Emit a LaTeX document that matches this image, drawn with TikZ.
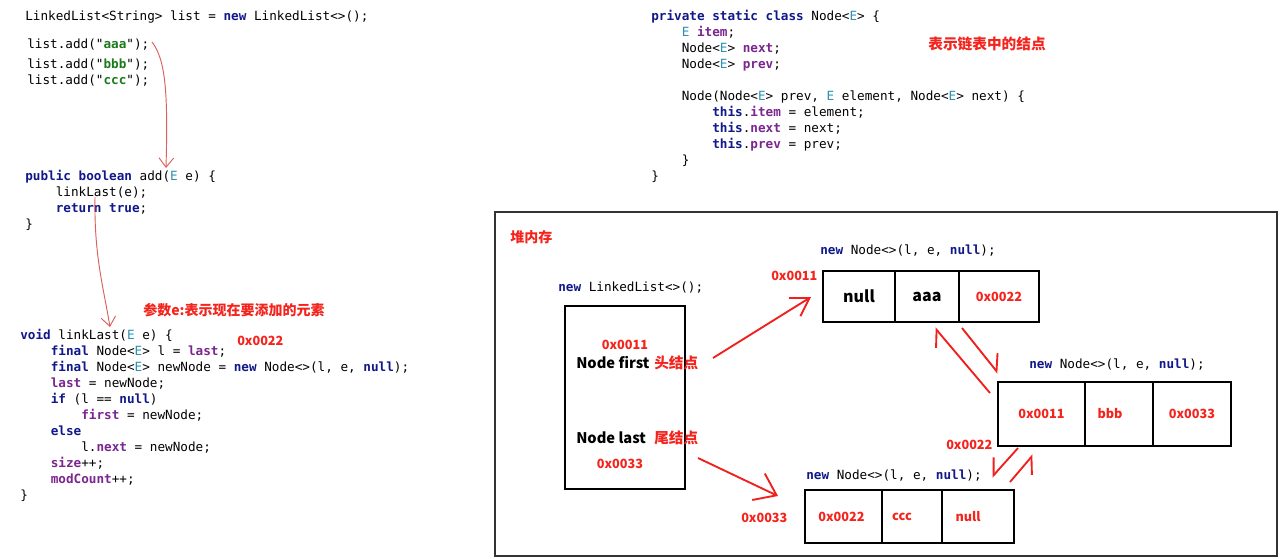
\documentclass[tikz,border=0pt]{standalone}
\usepackage{fontspec}
\setmonofont{DejaVu Sans Mono}
\newfontfamily\cjk{Noto Sans CJK SC}
\usetikzlibrary{arrows.meta,positioning}

\definecolor{kwblue}{HTML}{10188A}
\definecolor{tyteal}{HTML}{2B91AF}
\definecolor{fldpurple}{HTML}{7B2590}
\definecolor{strgreen}{HTML}{1C7A1C}
\definecolor{memred}{HTML}{F4231C}
\definecolor{handred}{HTML}{F0201C}
\definecolor{penred}{HTML}{D9605C}

\newcommand\kw[1]{\textcolor{kwblue}{\bfseries #1}}
\newcommand\ty[1]{\textcolor{tyteal}{#1}}
\newcommand\fld[1]{\textcolor{fldpurple}{\bfseries #1}}
\newcommand\lit[1]{\textcolor{strgreen}{\bfseries #1}}
\newcommand\ind{\hphantom{0000}}

\tikzset{
  code/.style={inner sep=0pt, anchor=north west, align=left,
    font=\ttfamily\fontsize{9.5}{12}\selectfont},
  memo/.style={inner sep=0pt, anchor=west, text=memred,
    font=\cjk\bfseries\fontsize{10.5}{12}\selectfont},
  addr/.style={inner sep=0pt, text=memred,
    font=\cjk\bfseries\fontsize{9.5}{11}\selectfont},
  field/.style={inner sep=0pt, anchor=west,
    font=\cjk\bfseries\fontsize{11}{13}\selectfont},
  objbox/.style={draw, line width=1.4pt, inner sep=0pt, outer sep=0pt},
  cell/.style={objbox, minimum height=#1, text=memred,
    font=\cjk\bfseries\fontsize{9.5}{11}\selectfont},
  bigval/.style={text=black, font=\cjk\bfseries\fontsize{12}{14}\selectfont},
  pen/.style={draw=penred, line width=0.7pt,
    -{Straight Barb[length=7pt,width=11pt]}},
  hand/.style={draw=handred, line width=1.4pt,
    -{Straight Barb[length=13pt,width=16pt]}},
  halfl/.style={draw=handred, line width=1.4pt,
    -{Straight Barb[left,length=10pt,width=18pt]}},
  halfr/.style={draw=handred, line width=1.4pt,
    -{Straight Barb[right,length=10pt,width=18pt]}}
}

\begin{document}
\begin{tikzpicture}[x=0.75pt,y=-0.75pt]
\fill[white] (0,0) rectangle (1280,559);
\useasboundingbox (0,0) rectangle (1280,559);

\node[code] (decl) at (25,11) {LinkedList<String> list = \kw{new} LinkedList<>();};
\node[code] (add1) at (27,39) {list.add("\lit{aaa}");};
\node[code] (add23) at (27,59) {list.add("\lit{bbb}");\\list.add("\lit{ccc}");};

\node[code] (addm) at (25,170) {\kw{public} \kw{boolean} add(\ty{E} e) \{\\
\ind linkLast(e);\\
\ind\kw{return} \kw{true};\\
\}};

\node[memo] (parm) at (143,310) {参数e:表示现在要添加的元素};
\node[code] (linkl) at (20,329) {\kw{void} linkLast(\ty{E} e) \{\\
\ind\kw{final} Node<\ty{E}> l = \fld{last};\\
\ind\kw{final} Node<\ty{E}> newNode = \kw{new} Node<>(l, e, \kw{null});\\
\ind\fld{last} = newNode;\\
\ind\kw{if} (l == \kw{null})\\
\ind\ind\fld{first} = newNode;\\
\ind\kw{else}\\
\ind\ind l.\fld{next} = newNode;\\
\ind\fld{size}++;\\
\ind\fld{modCount}++;\\
\}};
\node[addr, anchor=west] (lval) at (237,341) {0x0022};

\node[code] (nodecls) at (651,10) {\kw{private} \kw{static} \kw{class} Node<\ty{E}> \{\\
\ind\ty{E} \fld{item};\\
\ind Node<\ty{E}> \fld{next};\\
\ind Node<\ty{E}> \fld{prev};\\
\mbox{}\\
\ind Node(Node<\ty{E}> prev, \ty{E} element, Node<\ty{E}> next) \{\\
\ind\ind\kw{this}.\fld{item} = element;\\
\ind\ind\kw{this}.\fld{next} = next;\\
\ind\ind\kw{this}.\fld{prev} = prev;\\
\ind\}\\
\}};
\node[memo, anchor=center, font=\cjk\bfseries\fontsize{11}{13}\selectfont] (clsnote) at (987,44) {表示链表中的结点};

\draw[line width=1.5pt, draw=black!80] (495,212) rectangle (1277,556);
\node[memo] (heap) at (510,237) {堆内存};

\node[code] (newlist) at (558,282) {\kw{new} LinkedList<>();};
\node[objbox, minimum width=90pt, minimum height=137.25pt, anchor=north west] (list) at (565,306) {};
\node[addr] (firstval) at (625,345) {0x0011};
\node[field] (firstlbl) at (576,363) {Node first};
\node[memo, font=\cjk\bfseries\fontsize{11}{13}\selectfont] (firstnote) at (654,363) {头结点};
\node[field] (lastlbl) at (576,438) {Node last};
\node[memo, font=\cjk\bfseries\fontsize{11}{13}\selectfont] (lastnote) at (654,438) {尾结点};
\node[addr] (lastval) at (620,464) {0x0033};

\node[code] (new1) at (820,245) {\kw{new} Node<>(l, e, \kw{null});};
\node[cell=38.25pt, minimum width=54pt, anchor=north west, bigval] (n1prev) at (823,271) {null};
\node[cell=38.25pt, minimum width=48pt, right=0pt of n1prev, bigval] (n1item) {aaa};
\node[cell=38.25pt, minimum width=60pt, right=0pt of n1item] (n1next) {0x0022};
\node[addr, anchor=west] (n1addr) at (771,276) {0x0011};

\node[code] (new2) at (1029,359) {\kw{new} Node<>(l, e, \kw{null});};
\node[cell=48pt, minimum width=65.25pt, anchor=north west] (n2prev) at (998,382) {0x0011};
\node[cell=48pt, minimum width=51pt, right=0pt of n2prev] (n2item) {bbb\hspace*{13.5pt}};
\node[cell=48pt, minimum width=58.5pt, right=0pt of n2item] (n2next) {0x0033};
\node[addr, anchor=west] (n2addr) at (946,445) {0x0022};

\node[code] (new3) at (806,470) {\kw{new} Node<>(l, e, \kw{null});};
\node[cell=39.75pt, minimum width=57.75pt, anchor=north west] (n3prev) at (805,490) {0x0022\hspace*{3pt}};
\node[cell=39.75pt, minimum width=45pt, right=0pt of n3prev] (n3item) {ccc\hspace*{15pt}};
\node[cell=39.75pt, minimum width=54pt, right=0pt of n3item] (n3next) {null\hspace*{15pt}};
\node[addr, anchor=west] (n3addr) at (741,518) {0x0033};

\coordinate (aaaend) at (152,42);
\coordinate (addin) at (166,168);
\coordinate (retout) at (95,197);
\coordinate (llin) at (110,327);
\draw[pen] (aaaend) .. controls (166,60) and (168,95) .. (addin);
\draw[pen] (retout) .. controls (94,255) and (103,285) .. (llin);

\coordinate (f0) at (713,358);
\coordinate (f1) at (811,297);
\coordinate (l0) at (698,458);
\coordinate (l1) at (778,496);
\coordinate (nx12a) at (962,328);
\coordinate (nx12b) at (998,373);
\coordinate (pv21a) at (990,393);
\coordinate (pv21b) at (935,328);
\coordinate (nx23a) at (1018,448);
\coordinate (nx23b) at (992,477);
\coordinate (pv32a) at (1010,482);
\coordinate (pv32b) at (1033,455);
\draw[hand] (f0) -- (f1);
\draw[hand, -{Straight Barb[length=15pt,width=22pt]}] (l0) -- (l1);
\draw[halfl] (nx12a) -- (nx12b);
\draw[halfl] (pv21a) -- (pv21b);
\draw[halfr] (nx23a) -- (nx23b);
\draw[halfr] (pv32a) -- (pv32b);
\end{tikzpicture}
\end{document}
